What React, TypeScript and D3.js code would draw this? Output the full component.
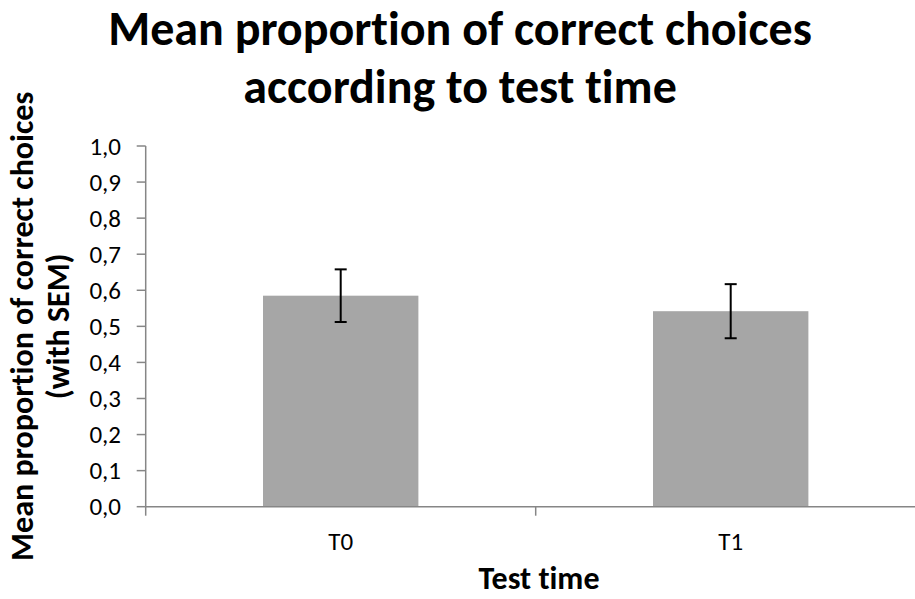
import React from "react";
import * as d3 from "d3";

const categories = ["T0", "T1"];
const means = [0.585, 0.542];
const sems = [0.073, 0.075];
const yTicks = [0, 0.1, 0.2, 0.3, 0.4, 0.5, 0.6, 0.7, 0.8, 0.9, 1.0];
const titleLines = ["Mean proportion of correct choices", "according to test time"];
const yTitleLines = ["Mean proportion of correct choices", "(with SEM)"];
const xTitle = "Test time";

const W = 915;
const H = 599;
const FONT = "Calibri, Carlito, Lato, 'Open Sans', sans-serif";
const AXIS = "#868686";

export default function App() {
  const left = 145.7;
  const right = 925.7;
  const top = 146;
  const bottom = 506.7;
  const x = d3.scaleBand<string>().domain(categories).range([left, right]).padding(0);
  const y = d3.scaleLinear().domain([0, 1]).range([bottom, top]);
  const band = x.bandwidth();
  const barW = band / 2.51;
  const fmt = (v: number) => d3.format(".1f")(v).replace(".", ",");
  const capW = 12;
  const boundaries = [left, ...categories.map((c) => (x(c) as number) + band)];

  return (
    <svg
      width={W}
      height={H}
      style={{ position: "absolute", left: 0, top: 0, background: "#fff", fontVariantLigatures: "none" }}
      fontFamily={FONT}
    >
      <rect x={0} y={0} width={W} height={H} fill="#fff" />
      {/* title */}
      <text x={460} y={45} textAnchor="middle" fontSize={48} fontWeight="bold" fill="#000">
        {titleLines[0]}
      </text>
      <text x={460} y={103} textAnchor="middle" fontSize={48} fontWeight="bold" fill="#000">
        {titleLines[1]}
      </text>

      {/* bars */}
      {categories.map((c, i) => {
        const cx = (x(c) as number) + band / 2;
        return (
          <rect
            key={c}
            x={cx - barW / 2}
            y={y(means[i])}
            width={barW}
            height={bottom - y(means[i])}
            fill="#a6a6a6"
          />
        );
      })}

      {/* error bars */}
      {categories.map((c, i) => {
        const cx = (x(c) as number) + band / 2;
        const y1 = y(means[i] + sems[i]);
        const y2 = y(means[i] - sems[i]);
        return (
          <g key={c} stroke="#000" strokeWidth={2}>
            <line x1={cx} x2={cx} y1={y1} y2={y2} />
            <line x1={cx - capW / 2} x2={cx + capW / 2} y1={y1} y2={y1} />
            <line x1={cx - capW / 2} x2={cx + capW / 2} y1={y2} y2={y2} />
          </g>
        );
      })}

      {/* y axis */}
      <line x1={left} x2={left} y1={top} y2={bottom} stroke={AXIS} strokeWidth={1.5} />
      {yTicks.map((t) => (
        <g key={t}>
          <line x1={left - 9} x2={left} y1={y(t)} y2={y(t)} stroke={AXIS} strokeWidth={1.5} />
          <text x={121} y={y(t)} dy="0.35em" textAnchor="end" fontSize={25} fill="#000">
            {fmt(t)}
          </text>
        </g>
      ))}

      {/* x axis */}
      <line x1={left} x2={right} y1={bottom} y2={bottom} stroke={AXIS} strokeWidth={1.5} />
      {boundaries.map((b, i) => (
        <line key={i} x1={b} x2={b} y1={bottom} y2={bottom + 9} stroke={AXIS} strokeWidth={1.5} />
      ))}
      {categories.map((c) => (
        <text
          key={c}
          x={(x(c) as number) + band / 2}
          y={550}
          textAnchor="middle"
          fontSize={25}
          fill="#000"
        >
          {c}
        </text>
      ))}

      {/* axis titles */}
      <text x={539} y={589} textAnchor="middle" fontSize={32} fontWeight="bold" fill="#000">
        {xTitle}
      </text>
      <g transform={`translate(0, ${(top + bottom) / 2}) rotate(-90)`}>
        <text x={0} y={33} textAnchor="middle" fontSize={32} fontWeight="bold" fill="#000">
          {yTitleLines[0]}
        </text>
        <text x={0} y={69} textAnchor="middle" fontSize={32} fontWeight="bold" fill="#000">
          {yTitleLines[1]}
        </text>
      </g>
    </svg>
  );
}
